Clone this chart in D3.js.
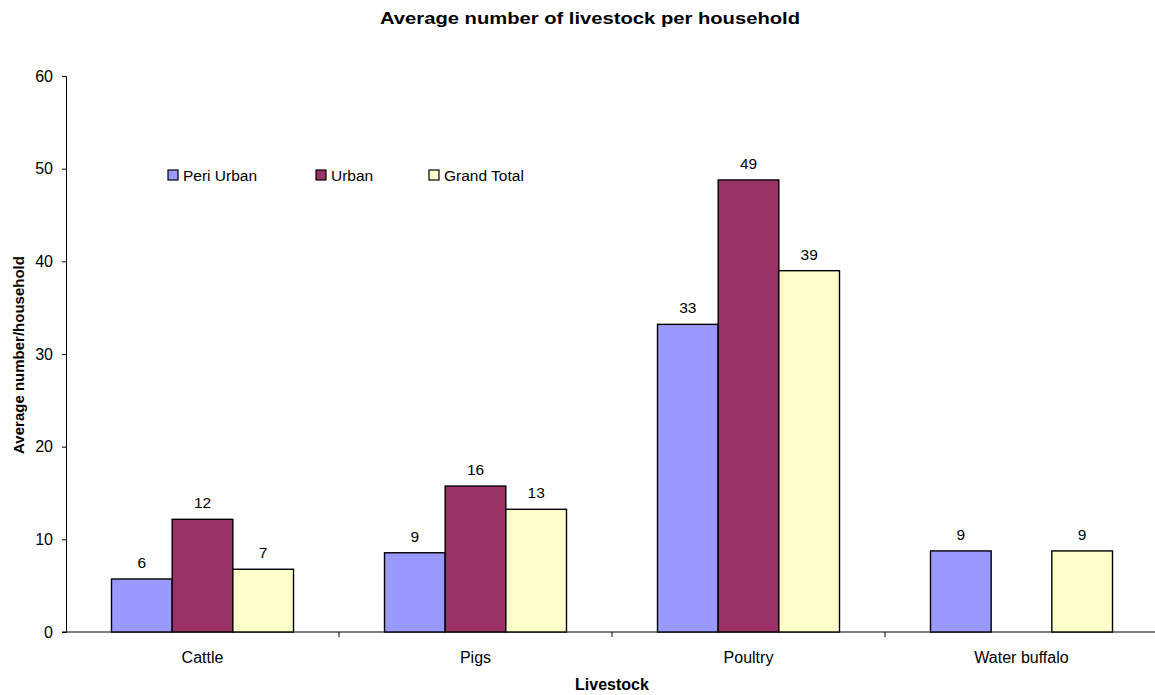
<!DOCTYPE html>
<html>
<head>
<meta charset="utf-8">
<script src="https://cdn.jsdelivr.net/npm/d3@7"></script>
<style>
  body { margin: 0; background: #fff; }
  svg { display: block; font-family: "Liberation Sans", Arial, sans-serif; }
</style>
</head>
<body>
<svg id="chart" width="1155" height="695"></svg>
<script>
// Livestock categories and average head counts per household
const categories = ["Cattle", "Pigs", "Poultry", "Water buffalo"];
const seriesNames = ["Peri Urban", "Urban", "Grand Total"];
const periUrban  = [5.72, 8.55, 33.2, 8.75];
const urban      = [12.16, 15.75, 48.78, null];
const grandTotal = [6.77, 13.24, 38.99, 8.75];
const yTicks = [0, 10, 20, 30, 40, 50, 60];
const colors = ["#9999FF", "#993366", "#FFFFCC"];

const seriesValues = [periUrban, urban, grandTotal];

const svg = d3.select("#chart");
const margin = { left: 66, right: -3, top: 76, bottom: 63 };
const W = 1155, H = 695;

const x = d3.scaleBand().domain(categories).range([margin.left, W - margin.right]).paddingInner(0).paddingOuter(0);
const xInner = d3.scaleBand().domain(seriesNames).range([0, x.bandwidth()]).paddingInner(0).paddingOuter(0.75);
const y = d3.scaleLinear().domain([0, 60]).range([H - margin.bottom, margin.top]);

// Title
svg.append("text")
  .attr("x", 590).attr("y", 24)
  .attr("text-anchor", "middle")
  .attr("font-weight", "bold").attr("font-size", 16)
  .attr("textLength", 420).attr("lengthAdjust", "spacingAndGlyphs")
  .text("Average number of livestock per household");

// Y axis
const yAxis = svg.append("g")
  .attr("transform", `translate(${margin.left},0)`)
  .call(d3.axisLeft(y).tickValues(yTicks).tickSize(4).tickPadding(9).tickFormat(d3.format("d")));
yAxis.selectAll("path, line").attr("stroke", "#000");
yAxis.selectAll("text").attr("font-size", 16).attr("fill", "#000").attr("font-family", "Liberation Sans, Arial, sans-serif");

// X axis with ticks between categories
const xAxis = svg.append("g").attr("transform", `translate(0,${y(0)})`);
xAxis.append("line")
  .attr("x1", margin.left - 4).attr("x2", W)
  .attr("stroke", "#000");
const boundaries = categories.slice(1).map(c => x(c));
xAxis.selectAll("line.tk").data(boundaries).join("line")
  .attr("class", "tk")
  .attr("x1", d => d).attr("x2", d => d)
  .attr("y1", 0).attr("y2", 5)
  .attr("stroke", "#000");
xAxis.selectAll("text.cat").data(categories).join("text")
  .attr("class", "cat")
  .attr("x", d => x(d) + x.bandwidth() / 2)
  .attr("y", 31)
  .attr("text-anchor", "middle")
  .attr("font-size", 16)
  .text(d => d);

// Axis titles
svg.append("text")
  .attr("x", (margin.left + W - margin.right) / 2).attr("y", 690)
  .attr("text-anchor", "middle")
  .attr("font-weight", "bold").attr("font-size", 16)
  .text("Livestock");

svg.append("text")
  .attr("transform", `translate(24,355) rotate(-90)`)
  .attr("text-anchor", "middle")
  .attr("font-weight", "bold").attr("font-size", 15)
  .text("Average number/household");

// Bars
const barData = [];
categories.forEach((c, i) => {
  seriesNames.forEach((s, j) => {
    const v = seriesValues[j][i];
    if (v != null) barData.push({ cat: c, series: s, value: v, color: colors[j] });
  });
});

const fmt = d3.format(".0f");
const bars = svg.append("g");
bars.selectAll("rect").data(barData).join("rect")
  .attr("x", d => x(d.cat) + xInner(d.series))
  .attr("y", d => y(d.value))
  .attr("width", xInner.bandwidth())
  .attr("height", d => y(0) - y(d.value))
  .attr("fill", d => d.color)
  .attr("stroke", "#000")
  .attr("stroke-width", 1.4);

bars.selectAll("text").data(barData).join("text")
  .attr("x", d => x(d.cat) + xInner(d.series) + xInner.bandwidth() / 2)
  .attr("y", d => y(d.value) - 11)
  .attr("text-anchor", "middle")
  .attr("font-size", 15.5)
  .text(d => fmt(d.value));

// Legend
const legendX = [168, 316, 429];
const legend = svg.append("g");
seriesNames.forEach((s, j) => {
  legend.append("rect")
    .attr("x", legendX[j]).attr("y", 170)
    .attr("width", 10).attr("height", 10)
    .attr("fill", colors[j]).attr("stroke", "#000").attr("stroke-width", 1.2);
  legend.append("text")
    .attr("x", legendX[j] + 15).attr("y", 181)
    .attr("font-size", 15.5)
    .text(s);
});
</script>
</body>
</html>
